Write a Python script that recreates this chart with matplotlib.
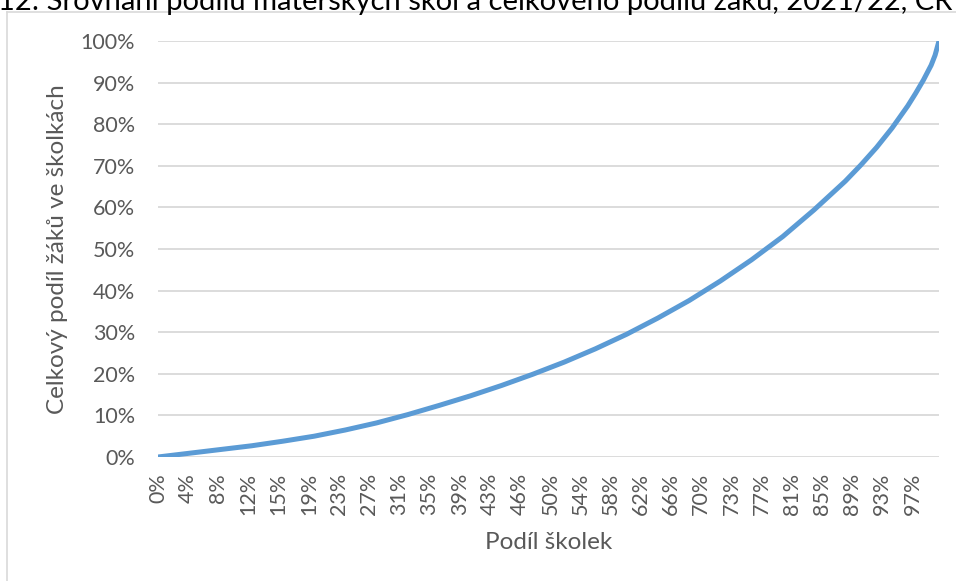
import matplotlib
matplotlib.use("Agg")
import matplotlib.pyplot as plt
import numpy as np
from matplotlib.lines import Line2D

# Data (share of schools % -> cumulative share of pupils %)
school_share = [0, 4, 8, 12, 16, 20, 24, 28, 32, 36, 40, 44, 48, 52, 56, 60,
                64, 68, 72, 76, 80, 84, 88, 90, 92, 94, 96, 97, 98, 99, 99.5, 100]
pupil_share = [0, 0.9, 1.8, 2.7, 3.8, 5.0, 6.5, 8.2, 10.2, 12.4, 14.7, 17.2,
               19.9, 22.8, 26.0, 29.5, 33.4, 37.6, 42.3, 47.4, 53.0, 59.4,
               66.3, 70.2, 74.4, 79.1, 84.4, 87.4, 90.6, 94.2, 96.6, 100]
x_tick_labels = ["0%", "4%", "8%", "12%", "15%", "19%", "23%", "27%", "31%",
                 "35%", "39%", "43%", "46%", "50%", "54%", "58%", "62%", "66%",
                 "70%", "73%", "77%", "81%", "85%", "89%", "93%", "97%"]
y_ticks = [0, 10, 20, 30, 40, 50, 60, 70, 80, 90, 100]

title = "12: Srovnání podílu mateřských škol a celkového podílu žáků, 2021/22, ČR"
x_title = "Podíl školek"
y_title = "Celkový podíl žáků ve školkách"

FONT = ["Lato", "DejaVu Sans"]
TXT = "#595959"
GRID = "#D9D9D9"

W, H = 956, 581
fig = plt.figure(figsize=(W / 100, H / 100), dpi=100)

# Outer chart border (partially visible)
fig.add_artist(Line2D([7 / W, 7 / W], [0, 1 - 12 / H], color=GRID, lw=1.2,
                      transform=fig.transFigure))
fig.add_artist(Line2D([7 / W, 1], [1 - 12 / H, 1 - 12 / H], color=GRID, lw=1.2,
                      transform=fig.transFigure))

# Title (clipped at the top of the image)
fig.text(952 / W, 1 - 10 / H, title, ha="right", va="baseline",
         fontsize=21, color="black", family=FONT)

ax = fig.add_axes([158 / W, (H - 457) / H, (939 - 158) / W, (457 - 41) / H])
ax.plot(school_share, pupil_share, color="#5B9BD5", lw=3.6,
        solid_capstyle="round", solid_joinstyle="round", zorder=3)

ax.set_xlim(0, 100)
ax.set_ylim(0, 100)
ax.set_yticks(y_ticks)
ax.set_yticklabels([f"{v}%" for v in y_ticks])
step = 3.864
ax.set_xticks([i * step for i in range(len(x_tick_labels))])
ax.set_xticklabels(x_tick_labels, rotation=90, va="top", ha="center")

ax.grid(axis="y", color=GRID, lw=1.3)
ax.set_axisbelow(True)
for s in ax.spines.values():
    s.set_visible(False)
ax.tick_params(axis="both", length=0, colors=TXT, labelsize=15.5)
ax.tick_params(axis="y", pad=16.5)
ax.tick_params(axis="x", pad=11.5)
for lab in ax.get_xticklabels() + ax.get_yticklabels():
    lab.set_family(FONT)

ax.set_xlabel(x_title, fontsize=17.5, color=TXT, family=FONT, labelpad=12)
ax.set_ylabel(y_title, fontsize=17.5, color=TXT, family=FONT)
ax.yaxis.set_label_coords((68 - 158) / (939 - 158), 0.5)

fig.savefig("out.png", dpi=100)
